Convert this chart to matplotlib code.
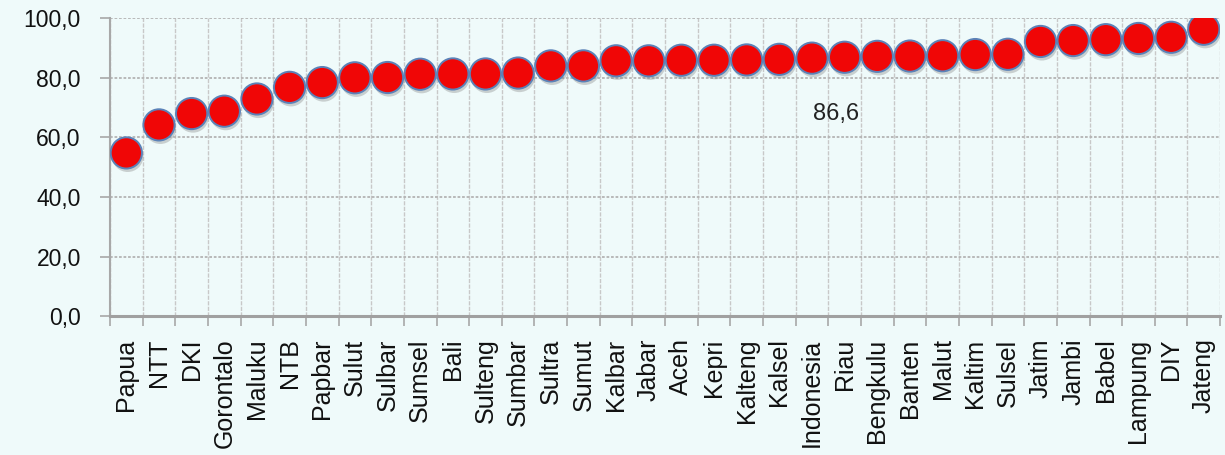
import matplotlib
matplotlib.use("Agg")
import matplotlib.pyplot as plt
import matplotlib.patheffects as pe
from matplotlib.ticker import FuncFormatter, FixedLocator

provinces = ["Papua", "NTT", "DKI", "Gorontalo", "Maluku", "NTB", "Papbar", "Sulut",
             "Sulbar", "Sumsel", "Bali", "Sulteng", "Sumbar", "Sultra", "Sumut", "Kalbar",
             "Jabar", "Aceh", "Kepri", "Kalteng", "Kalsel", "Indonesia", "Riau", "Bengkulu",
             "Banten", "Malut", "Kaltim", "Sulsel", "Jatim", "Jambi", "Babel", "Lampung",
             "DIY", "Jateng"]
values = [54.8, 64.2, 68.0, 68.8, 72.9, 76.8, 78.4, 80.0,
          80.1, 81.2, 81.3, 81.3, 81.6, 84.0, 84.0, 85.7,
          85.7, 85.9, 85.9, 86.0, 86.2, 86.6, 86.9, 87.2,
          87.3, 87.4, 87.8, 87.9, 92.2, 92.5, 92.8, 93.2,
          93.6, 96.3]
highlight = "Indonesia"
y_ticks = [0, 20, 40, 60, 80, 100]

plt.rcParams['font.family'] = ['Liberation Sans', 'DejaVu Sans']

bg = '#EFFAFA'
fig = plt.figure(figsize=(12.25, 4.55), dpi=100, facecolor=bg)
ax = fig.add_axes([0.0898, 0.305, 0.9062, 0.655])
ax.set_facecolor(bg)

x = list(range(len(provinces)))
ax.plot(x, values, linestyle='none', marker='o', markersize=22.5,
        markerfacecolor='#F00606', markeredgecolor='#5B82B8', markeredgewidth=1.4,
        zorder=5,
        path_effects=[pe.SimplePatchShadow(offset=(1.0, -2.5), shadow_rgbFace='#808080', alpha=0.35),
                      pe.Normal()])

hi = provinces.index(highlight)
ax.text(hi + 0.74, 68.0, f"{values[hi]:.1f}".replace('.', ','), fontsize=17,
        ha='center', va='center', color='#222222')

ax.set_xlim(-0.5, len(provinces) - 0.5)
ax.set_ylim(0, 100)
ax.set_yticks(y_ticks)
ax.yaxis.set_major_formatter(FuncFormatter(lambda v, p: f"{v:.1f}".replace('.', ',')))

ax.set_xticks(x)
ax.set_xticklabels(provinces, rotation=90, fontsize=18, va='top', ha='center')
ax.xaxis.set_minor_locator(FixedLocator([i - 0.5 for i in range(len(provinces) + 1)]))

ax.tick_params(axis='x', which='major', length=0, pad=16, colors='#111111')
ax.tick_params(axis='x', which='minor', length=7, width=1.2, color='#A8A8A8')
ax.tick_params(axis='y', which='major', length=7, width=1.2, color='#A8A8A8',
               pad=14, labelsize=16.5, labelcolor='#111111')

ax.grid(axis='x', which='minor', color='#C8C8C8', linewidth=1.0, linestyle=(0, (3, 1)))
ax.grid(axis='y', which='major', color='#B4B4B4', linewidth=1.3, linestyle=(0, (1.5, 1)))
ax.set_axisbelow(True)

for s in ['top', 'right']:
    ax.spines[s].set_visible(False)
ax.spines['left'].set_color('#A8A8A8')
ax.spines['left'].set_linewidth(1.5)
ax.spines['bottom'].set_color('#A0A0A0')
ax.spines['bottom'].set_linewidth(2.2)

fig.savefig('out.png', dpi=100, facecolor=bg)
